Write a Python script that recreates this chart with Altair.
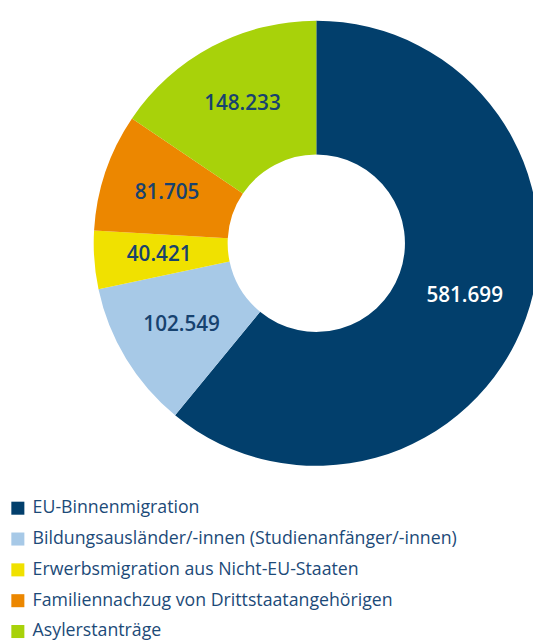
import altair as alt
import pandas as pd

categories = [
    "EU-Binnenmigration",
    "Bildungsausländer/-innen (Studienanfänger/-innen)",
    "Erwerbsmigration aus Nicht-EU-Staaten",
    "Familiennachzug von Drittstaatangehörigen",
    "Asylerstanträge",
]
values = [581699, 102549, 40421, 81705, 148233]
colors = ["#023F6C", "#A7C9E7", "#F0E100", "#EC8700", "#A8D20A"]
label_colors = ["#FFFFFF", "#17426F", "#17426F", "#17426F", "#17426F"]

df = pd.DataFrame({
    "cat": categories,
    "val": values,
    "idx": list(range(len(values))),
    "label": [f"{v:,}".replace(",", ".") for v in values],
    "lc": label_colors,
})

CX, CY = 313, 234

base = alt.Chart(df).encode(
    theta=alt.Theta("val:Q", stack=True),
    order=alt.Order("idx:Q"),
)

arcs = base.mark_arc(outerRadius=226, innerRadius=90, x=CX, y=CY).encode(
    color=alt.Color(
        "cat:N",
        scale=alt.Scale(domain=categories, range=colors),
        sort=categories,
        legend=alt.Legend(
            title=None,
            orient="none",
            legendX=1,
            legendY=494,
            symbolType="square",
            symbolSize=175,
            symbolStrokeWidth=0,
            labelFontSize=18,
            labelFont="Open Sans",
            labelColor="#1C4A78",
            labelLimit=520,
            rowPadding=13.3,
            labelOffset=6,
        ),
    ),
)

texts = base.mark_text(radius=160, x=CX, y=CY, fontSize=21, font="Open Sans",
                       fontWeight=600).encode(
    text="label:N",
    color=alt.Color("lc:N", scale=None),
)

chart = (arcs + texts).properties(
    width=533, height=633, padding=0,
    autosize=alt.AutoSizeParams(type="none"),
).configure_view(stroke=None)

chart.save("out.html", embed_options={"renderer": "svg", "actions": False})
